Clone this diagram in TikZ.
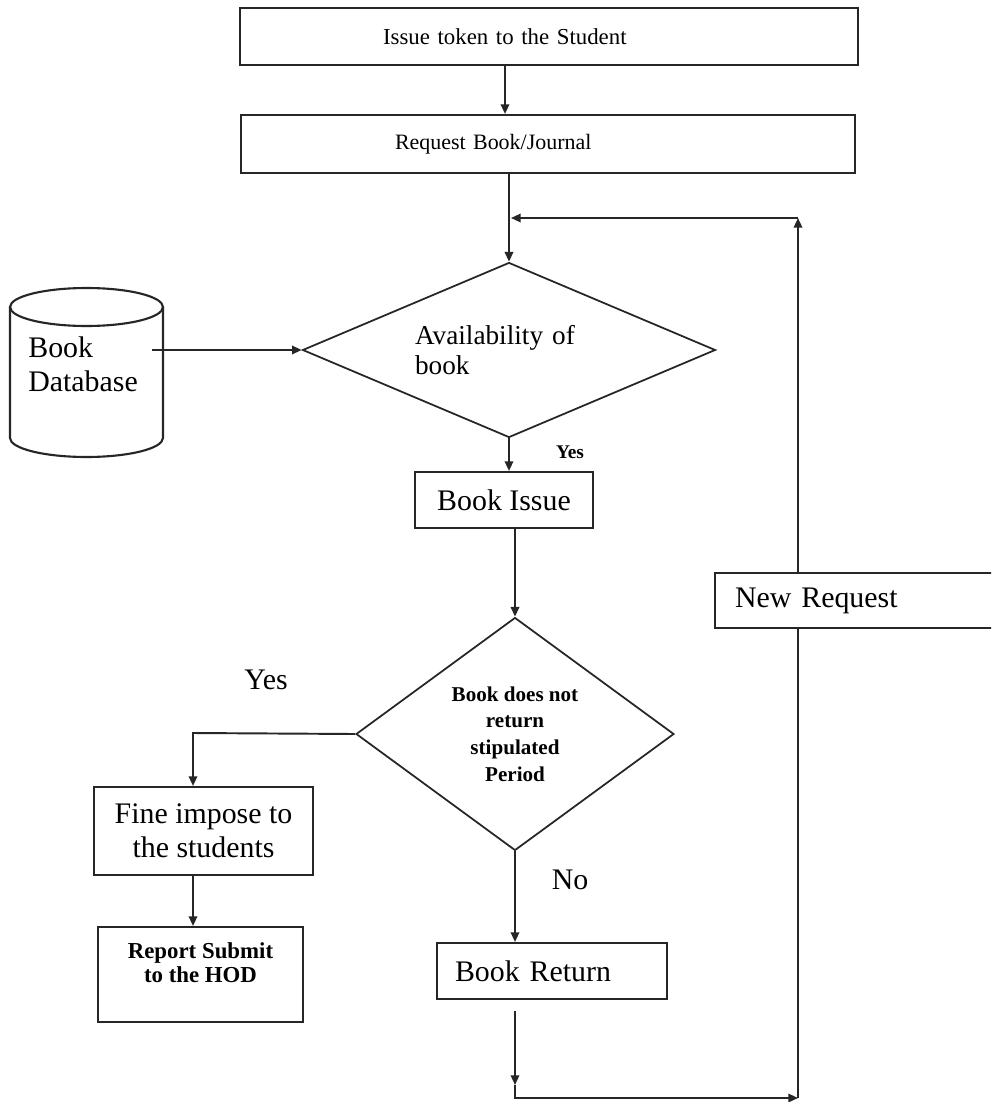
\documentclass[tikz,border=0pt]{standalone}
\usepackage{fontspec}
\setmainfont{Liberation Serif}
\usetikzlibrary{shapes.geometric,arrows.meta,calc}
\begin{document}
\begin{tikzpicture}[x=0.02cm,y=-0.02cm,
  line/.style={draw=black!85, line width=1.1pt},
  arr/.style={line, -{Triangle[length=5.5pt,width=4.8pt]}},
  boxnode/.style={draw=black!85, line width=1.2pt, rectangle, inner sep=0pt},
  dia/.style={draw=black!85, line width=1pt, diamond, inner sep=0pt},
  big/.style={font=\fontsize{17}{19.5}\selectfont},
  lbl/.style={inner sep=0pt}
]
\useasboundingbox (0,0) rectangle (991,1102);
\fill[white] (0,0) rectangle (991,1102);
\clip (0,0) rectangle (991,1102);

% boxes
\node[boxnode, minimum width=12.36cm, minimum height=1.14cm, text width=12.36cm, align=left,
  font=\fontsize{13}{15}\selectfont] (box1) at (549,36.5) {\hspace*{2.86cm}Issue token to the Student};
\node[boxnode, minimum width=12.28cm, minimum height=1.16cm, text width=12.28cm, align=left,
  font=\fontsize{12.5}{15}\selectfont] (box2) at (548,144) {\hspace*{3.08cm}Request Book/Journal};

\node[dia, minimum width=8.26cm, minimum height=3.5cm, shape aspect=2.36, text width=3.76cm, align=left,
  font=\fontsize{15.5}{17}\selectfont] (d1) at (509,350) {Availability of\\book};

% database cylinder
\draw[line, line width=1.2pt] (10,307) -- (10,438) arc[start angle=180, end angle=360, x radius=1.53cm, y radius=0.38cm] -- (163,307);
\draw[line, line width=1.2pt] (86.5,307) ellipse [x radius=1.53cm, y radius=0.38cm];
\node[lbl, big, align=left, anchor=west] (db) at (28,364) {Book\\Database};
\coordinate (dbout) at (152,350);

\node[boxnode, big, minimum width=3.56cm, minimum height=1.12cm] (bi) at (504,500) {Book Issue};

\node[dia, minimum width=6.36cm, minimum height=4.66cm, shape aspect=1.36, align=center,
  font=\bfseries\fontsize{12}{15.2}\selectfont] (d2) at (515,734) {Book does not\\return\\stipulated\\Period};

\node[boxnode, minimum width=4.38cm, minimum height=1.76cm, align=center, big] (fine) at (203.5,831) {Fine impose to\\the students};

\node[boxnode, minimum width=4.1cm, minimum height=1.9cm, align=center,
  font=\bfseries\fontsize{13}{13.7}\selectfont] (rep) at (200.5,974.5) {Report Submit\\to the HOD\rule[-0.48cm]{0pt}{0.48cm}};

\node[boxnode, big, minimum width=4.6cm, minimum height=1.12cm, text width=4.6cm, align=left] (br) at (552,971) {\hspace*{0.36cm}Book Return};

\node[boxnode, big, minimum width=5.6cm, minimum height=1.1cm, text width=5.6cm, align=left] (nr) at (855,600.5) {\hspace*{0.4cm}New Request};

% labels
\node[lbl, font=\bfseries\fontsize{11}{13}\selectfont] (yes1) at (570,452) {Yes};
\node[lbl, big] (yes2) at (266,680) {Yes};
\node[lbl, big] (no) at (570,880) {No};

% coordinates
\coordinate (top) at (505,0);
\coordinate (yturn) at (193,733);
\coordinate (c0) at (515,1085);
\coordinate (c1) at (515,1098);
\coordinate (c2) at (798,1098);
\coordinate (c3) at (798,218);
\coordinate (c4) at (511,218);

% connectors
\draw[arr] (box1.south -| top) -- (box2.north -| top);
\draw[arr] (box2.south -| d1.north) -- (d1.north);
\draw[arr] (dbout) -- (d1.west);
\draw[arr] (d1.south) -- (bi.north -| d1.south);
\draw[arr] (bi.south -| d2.north) -- (d2.north);
\draw[arr] (d2.west) -- (yturn) -- (fine.north -| yturn);
\draw[arr] (fine.south -| yturn) -- (rep.north -| yturn);
\draw[arr] (d2.south) -- (br.north -| d2.south);
\draw[arr, shorten <=0.22cm] (br.south -| d2.south) -- (c0);
\draw[arr] (c0) -- (c1) -- (c2);
\draw[line] (c2) -- (nr.south -| c2);
\draw[arr] (nr.north -| c2) -- (c3);
\draw[arr] (c3) -- (c4);
\end{tikzpicture}
\end{document}
